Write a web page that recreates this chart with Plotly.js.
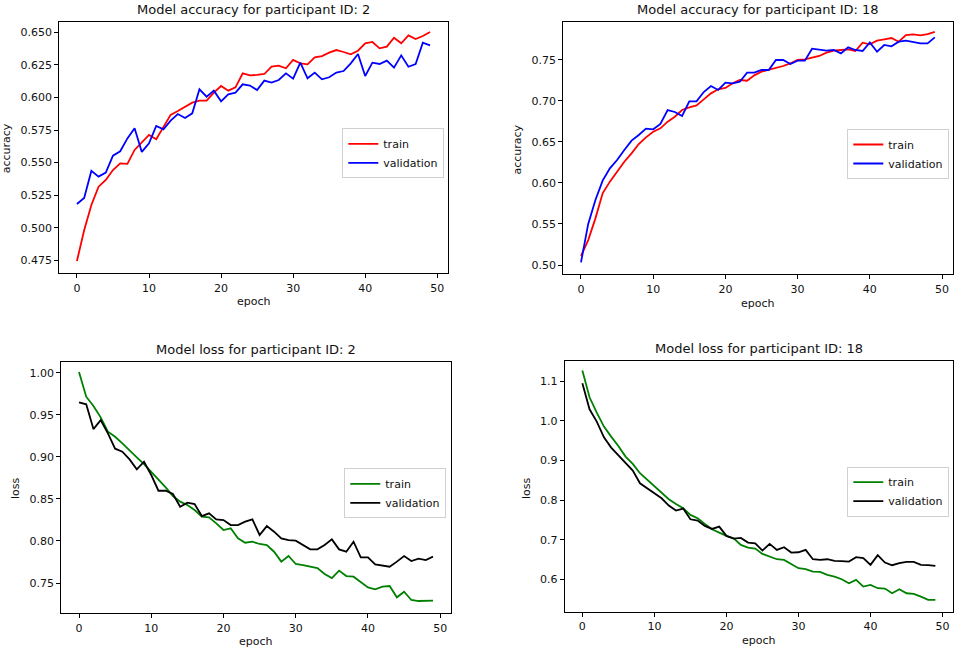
<!DOCTYPE html>
<html>
<head>
<meta charset="utf-8">
<script src="https://cdn.plot.ly/plotly-3.0.1.min.js"></script>
<style>
  html, body { margin: 0; padding: 0; background: #fff; }
  #plot { width: 957px; height: 652px; }
</style>
</head>
<body>
<div id="plot"></div>
<script>
// epochs 0..49
const epochs = [
  0, 1, 2, 3, 4, 5, 6, 7, 8, 9,
  10, 11, 12, 13, 14, 15, 16, 17, 18, 19,
  20, 21, 22, 23, 24, 25, 26, 27, 28, 29,
  30, 31, 32, 33, 34, 35, 36, 37, 38, 39,
  40, 41, 42, 43, 44, 45, 46, 47, 48, 49
];
const xTicks = [0, 10, 20, 30, 40, 50];

// participant 2 - accuracy
const acc2Train = [
  0.4745, 0.498, 0.5175, 0.5315, 0.5367, 0.5443, 0.5494, 0.549, 0.5597, 0.5653,
  0.5712, 0.5679, 0.5776, 0.5866, 0.5896, 0.593, 0.596, 0.5975, 0.5975, 0.6037,
  0.6088, 0.6052, 0.6078, 0.6185, 0.617, 0.6173, 0.618, 0.6236, 0.6244, 0.6224,
  0.6288, 0.6262, 0.6254, 0.6308, 0.6318, 0.6344, 0.6364, 0.6349, 0.6331, 0.6359,
  0.6416, 0.6426, 0.6377, 0.639, 0.6459, 0.6416, 0.6477, 0.6449, 0.6472, 0.6503
];
const acc2Val = [
  0.5182, 0.5228, 0.5436, 0.5392, 0.5423, 0.5553, 0.5587, 0.5686, 0.5763, 0.5582,
  0.5648, 0.5781, 0.5755, 0.5822, 0.5873, 0.5842, 0.5878, 0.6063, 0.6006, 0.6052,
  0.597, 0.6024, 0.6037, 0.6101, 0.6091, 0.6057, 0.6129, 0.6114, 0.6134, 0.6185,
  0.6144, 0.6267, 0.6147, 0.6191, 0.6139, 0.6155, 0.6191, 0.6203, 0.6262, 0.6334,
  0.6165, 0.6267, 0.6257, 0.6283, 0.6229, 0.6323, 0.6236, 0.6257, 0.6421, 0.64
];

// participant 18 - accuracy
const acc18Train = [
  0.511, 0.5304, 0.5568, 0.5873, 0.6015, 0.6136, 0.6258, 0.636, 0.6473, 0.6554,
  0.6623, 0.6664, 0.6745, 0.6806, 0.6887, 0.692, 0.6944, 0.7017, 0.709, 0.7139,
  0.7155, 0.7212, 0.7252, 0.7244, 0.7309, 0.7354, 0.7374, 0.7399, 0.7423, 0.7455,
  0.7496, 0.7504, 0.7528, 0.7545, 0.7585, 0.761, 0.7618, 0.7626, 0.7606, 0.7707,
  0.7687, 0.7731, 0.7748, 0.7764, 0.7719, 0.78, 0.7808, 0.7796, 0.7812, 0.7837
];
const acc18Val = [
  0.5033, 0.55, 0.5791, 0.6027, 0.6177, 0.6278, 0.64, 0.6514, 0.6583, 0.666,
  0.6652, 0.6717, 0.6887, 0.6863, 0.6814, 0.6993, 0.6993, 0.7106, 0.7179, 0.7131,
  0.722, 0.7212, 0.7232, 0.7342, 0.7342, 0.7374, 0.7374, 0.7496, 0.7496, 0.7447,
  0.7488, 0.7488, 0.7634, 0.7626, 0.761, 0.7618, 0.7577, 0.765, 0.7618, 0.7606,
  0.7711, 0.7597, 0.7679, 0.7662, 0.7719, 0.7731, 0.7715, 0.7699, 0.7699, 0.7772
];

// participant 2 - loss
const loss2Train = [
  1.001, 0.9715, 0.9604, 0.9469, 0.9299, 0.9239, 0.916, 0.9073, 0.8994, 0.8914,
  0.8823, 0.8732, 0.8637, 0.8534, 0.8467, 0.8427, 0.8368, 0.8288, 0.828, 0.8209,
  0.813, 0.815, 0.8031, 0.7979, 0.7991, 0.7964, 0.7952, 0.7872, 0.7754, 0.7821,
  0.7726, 0.7714, 0.7694, 0.7678, 0.7607, 0.7559, 0.7647, 0.7583, 0.7575, 0.7516,
  0.7448, 0.7425, 0.7456, 0.7464, 0.733, 0.7397, 0.7298, 0.7286, 0.7286, 0.729
];
const loss2Val = [
  0.9647, 0.9624, 0.933, 0.9437, 0.9279, 0.9097, 0.9061, 0.897, 0.8851, 0.8942,
  0.8784, 0.8597, 0.8597, 0.8558, 0.8407, 0.8455, 0.8439, 0.8296, 0.8328, 0.8257,
  0.8249, 0.8189, 0.8189, 0.8229, 0.8257, 0.8071, 0.8177, 0.811, 0.8031, 0.8011,
  0.8003, 0.7952, 0.79, 0.79, 0.7952, 0.8019, 0.79, 0.7872, 0.7991, 0.7805,
  0.7805, 0.7722, 0.771, 0.7694, 0.7754, 0.7821, 0.7761, 0.7789, 0.7773, 0.7813
];

// participant 18 - loss
const loss18Train = [
  1.127, 1.0596, 1.0209, 0.9855, 0.9603, 0.9367, 0.9098, 0.8912, 0.8677, 0.8508,
  0.8357, 0.8189, 0.802, 0.7902, 0.7793, 0.7625, 0.754, 0.7397, 0.7263, 0.7178,
  0.7094, 0.7035, 0.6867, 0.68, 0.6774, 0.664, 0.6572, 0.6505, 0.6488, 0.6379,
  0.6278, 0.6253, 0.6194, 0.6185, 0.6109, 0.6067, 0.6, 0.5899, 0.5983, 0.5815,
  0.5857, 0.5773, 0.5764, 0.5646, 0.5747, 0.5646, 0.5629, 0.5562, 0.5478, 0.5478
];
const loss18Val = [
  1.095, 1.0293, 0.9981, 0.9586, 0.9325, 0.914, 0.8929, 0.8744, 0.8424, 0.8298,
  0.8189, 0.8045, 0.786, 0.7734, 0.7785, 0.7515, 0.7481, 0.7347, 0.7271, 0.733,
  0.7094, 0.7027, 0.7044, 0.6926, 0.6909, 0.6724, 0.6892, 0.6741, 0.6808, 0.6673,
  0.6682, 0.6741, 0.6505, 0.6488, 0.6505, 0.6463, 0.6455, 0.6446, 0.6556, 0.6531,
  0.6362, 0.6606, 0.6421, 0.6354, 0.6404, 0.6438, 0.6438, 0.6362, 0.6354, 0.6337
];

const panelTitles = [
  'Model accuracy for participant ID: 2',
  'Model accuracy for participant ID: 18',
  'Model loss for participant ID: 2',
  'Model loss for participant ID: 18'
];

const W = 957, H = 652;
// pixel -> paper helpers (margins are zero)
function px(x) { return x / W; }
function py(y) { return 1 - y / H; }

const FONT = 'DejaVu Sans, sans-serif';
const INK = '#111';

function line(y, name, color, xa, ya, leg) {
  return {
    type: 'scatter', mode: 'lines',
    x: epochs, y: y, name: name,
    xaxis: xa, yaxis: ya, legend: leg,
    line: { color: color, width: 1.8 },
    hoverinfo: 'x+y'
  };
}

const traces = [
  line(acc2Train, 'train', '#ff0000', 'x', 'y', 'legend'),
  line(acc2Val, 'validation', '#0000ff', 'x', 'y', 'legend'),
  line(acc18Train, 'train', '#ff0000', 'x2', 'y2', 'legend2'),
  line(acc18Val, 'validation', '#0000ff', 'x2', 'y2', 'legend2'),
  line(loss2Train, 'train', '#008000', 'x3', 'y3', 'legend3'),
  line(loss2Val, 'validation', '#000000', 'x3', 'y3', 'legend3'),
  line(loss18Train, 'train', '#008000', 'x4', 'y4', 'legend4'),
  line(loss18Val, 'validation', '#000000', 'x4', 'y4', 'legend4')
];

function xAxis(left, right, anchor) {
  return {
    domain: [px(left), px(right)], anchor: anchor,
    range: [-2.45, 51.45], tickvals: xTicks,
    showline: true, mirror: true, linecolor: '#000', linewidth: 1,
    ticks: 'outside', ticklen: 4, tickcolor: '#000',
    showgrid: false, zeroline: false,
    tickfont: { size: 11, color: INK }
  };
}
function yAxis(top, bottom, anchor, range, dtick, fmt) {
  return {
    domain: [py(bottom), py(top)], anchor: anchor,
    range: range, dtick: dtick, tick0: 0, tickformat: fmt,
    showline: true, mirror: true, linecolor: '#000', linewidth: 1,
    ticks: 'outside', ticklen: 4, tickcolor: '#000',
    showgrid: false, zeroline: false,
    tickfont: { size: 11, color: INK }
  };
}
function legendAt(left, top) {
  return {
    x: px(left), y: py(top), xanchor: 'left', yanchor: 'top',
    bgcolor: 'rgba(255,255,255,0.8)', bordercolor: '#d0d0d0', borderwidth: 1,
    font: { size: 11, color: INK }, itemwidth: 30, tracegroupgap: 0
  };
}
function text(t, x, y, size, angle) {
  return {
    text: t, xref: 'paper', yref: 'paper', x: px(x), y: py(y),
    xanchor: 'center', yanchor: 'middle', showarrow: false,
    textangle: angle || 0, font: { size: size, color: INK }
  };
}

const layout = {
  width: W, height: H,
  margin: { l: 0, r: 0, t: 0, b: 0 },
  paper_bgcolor: '#fff', plot_bgcolor: '#fff',
  font: { family: FONT, color: INK },
  xaxis: xAxis(59.3, 447.7, 'y'),
  yaxis: yAxis(22.3, 273.3, 'x', [0.465, 0.6577], 0.025, '.3f'),
  xaxis2: xAxis(563.3, 952.5, 'y2'),
  yaxis2: yAxis(22.3, 274.3, 'x2', [0.4887, 0.7955], 0.05, '.2f'),
  xaxis3: xAxis(61.3, 450.7, 'y3'),
  yaxis3: yAxis(361.7, 613.3, 'x3', [0.714, 1.0131], 0.05, '.2f'),
  xaxis4: xAxis(564.7, 953, 'y4'),
  yaxis4: yAxis(360.7, 611.7, 'x4', [0.518, 1.152], 0.1, '.1f'),
  legend: legendAt(342.3, 128.3),
  legend2: legendAt(847.3, 129),
  legend3: legendAt(344.3, 468.3),
  legend4: legendAt(847.3, 466.7),
  annotations: [
    text(panelTitles[0], 253.5, 9.5, 13),
    text(panelTitles[1], 758, 9.5, 13),
    text(panelTitles[2], 256, 349.3, 13),
    text(panelTitles[3], 759, 348.5, 13),
    text('epoch', 253.5, 301.7, 11),
    text('epoch', 758, 303.3, 11),
    text('epoch', 256, 641.7, 11),
    text('epoch', 759, 640.7, 11),
    text('accuracy', 6, 148.3, 11, -90),
    text('accuracy', 517.3, 149.3, 11, -90),
    text('loss', 15.7, 488.3, 11, -90),
    text('loss', 526.3, 487.7, 11, -90)
  ]
};

Plotly.newPlot('plot', traces, layout, { displayModeBar: false, staticPlot: true });
</script>
</body>
</html>
